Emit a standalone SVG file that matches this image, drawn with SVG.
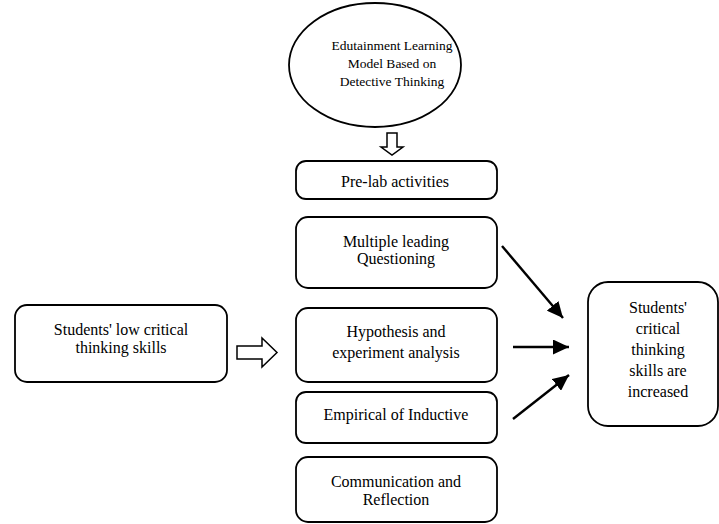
<svg xmlns="http://www.w3.org/2000/svg" width="719" height="524" viewBox="0 0 719 524">
<defs>
<style>
.box{fill:#fff;stroke:#000;stroke-width:1.8}
.t{font-family:"Liberation Serif","Times New Roman",serif;font-size:16px;fill:#000;text-anchor:middle}
.te{font-family:"Liberation Serif","Times New Roman",serif;font-size:13.5px;fill:#000;text-anchor:middle}
.hollow{fill:#fff;stroke:#000;stroke-width:1.5;stroke-linejoin:miter}
.conn{stroke:#000;stroke-width:2.4;fill:none}
</style>
<marker id="ah" markerUnits="userSpaceOnUse" markerWidth="17" markerHeight="15" refX="16" refY="7.5" orient="auto">
<path d="M0,0 L16,7.5 L0,15 z" fill="#000"/>
</marker>
</defs>
<rect width="719" height="524" fill="#fff"/>
<g id="model">
<ellipse class="box" cx="375" cy="65" rx="86" ry="62"/>
<text class="te" x="392" y="50">Edutainment Learning</text>
<text class="te" x="392" y="68">Model Based on</text>
<text class="te" x="392" y="86">Detective Thinking</text>
</g>
<g id="prelab">
<rect class="box" x="296" y="161" width="201" height="38" rx="10"/>
<text class="t" x="395" y="187">Pre-lab activities</text>
</g>
<g id="multiple">
<rect class="box" x="296" y="217" width="201" height="71" rx="12"/>
<text class="t" x="396" y="247">Multiple leading</text>
<text class="t" x="396" y="264">Questioning</text>
</g>
<g id="hypothesis">
<rect class="box" x="296" y="308" width="201" height="74" rx="12"/>
<text class="t" x="396" y="337">Hypothesis and</text>
<text class="t" x="396" y="358">experiment analysis</text>
</g>
<g id="empirical">
<rect class="box" x="296" y="392" width="201" height="51" rx="10"/>
<text class="t" x="396" y="420">Empirical of Inductive</text>
</g>
<g id="communication">
<rect class="box" x="296" y="457" width="201" height="65" rx="12"/>
<text class="t" x="396" y="487">Communication and</text>
<text class="t" x="396" y="505">Reflection</text>
</g>
<g id="low">
<rect class="box" x="15" y="305" width="212" height="77" rx="12"/>
<text class="t" x="121" y="335">Students' low critical</text>
<text class="t" x="121" y="353">thinking skills</text>
</g>
<g id="increased">
<rect class="box" x="588" y="282" width="130" height="144" rx="20"/>
<text class="t" x="658" y="313">Students'</text>
<text class="t" x="658" y="334">critical</text>
<text class="t" x="658" y="355">thinking</text>
<text class="t" x="658" y="376">skills are</text>
<text class="t" x="658" y="397">increased</text>
</g>
<g id="connectors">
<polygon class="hollow" points="387,133 397,133 397,147 403,147 392,155 381,147 387,147"/>
<polygon class="hollow" points="237,346 262,346 262,338 277,352.5 262,367 262,359 237,359"/>
<line class="conn" x1="502" y1="246" x2="563" y2="318" marker-end="url(#ah)"/>
<line class="conn" x1="513" y1="347" x2="569" y2="347" marker-end="url(#ah)"/>
<line class="conn" x1="513" y1="419" x2="569" y2="375" marker-end="url(#ah)"/>
</g>
</svg>
